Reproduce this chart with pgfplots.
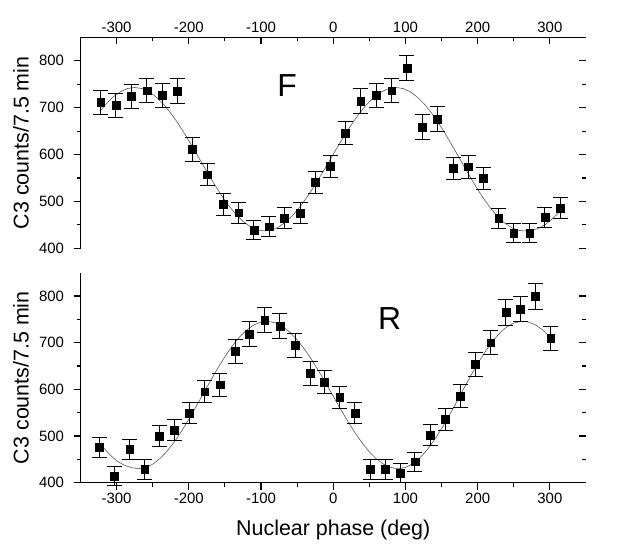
\documentclass[border=0pt]{standalone}
\usepackage{pgfplots}
\pgfplotsset{compat=1.18}
\usepackage{fontspec}
\setmainfont{Liberation Sans}

\pgfplotstableread{
x y e
-322 711 26
-301 705 26
-280 724 26
-258 736 26
-237 726 26
-216 735 27
-195 611 25
-174 557 24
-152 494 23
-131 476 22
-110 439 20
-89 446 21
-68 465 22
-46 475 22
-25 541 23
-4 575 24
17 646 25
38 714 26
60 726 26
81 736 26
102 784 27
123 659 26
144 676 26
166 570 24
187 574 24
208 549 23
229 464 22
250 432 20
272 432 20
293 466 22
314 486 22
}\dataF

\pgfplotstableread{
x y e
-324 476 22
-303 414 20
-282 471 21
-261 429 21
-241 500 22
-220 513 22
-199 549 23
-178 595 24
-157 610 25
-136 681 26
-116 718 27
-95 749 27
-74 736 27
-53 694 26
-32 634 25
-12 616 25
9 583 24
30 549 23
51 429 21
72 429 21
93 421 20
113 445 20
134 502 22
155 536 23
176 586 24
197 654 26
218 700 26
239 765 27
259 772 27
280 800 28
301 709 26
}\dataR

\pgfplotsset{
  base/.style={
    scale only axis, width=505.5bp, anchor=south west,
    xmin=-350, xmax=350, ymin=400, ymax=850, clip=false,
    /pgf/number format/assume math mode=true,
    tick label style={font=\fontsize{15}{18}\selectfont, text=black},
    yticklabel style={xshift=-6bp},
    major tick length=7bp, minor tick length=4bp,
    every tick/.style={black, line width=1.1bp},
    axis line style={black, line width=1.4bp},
    xtick={-300,-200,...,300}, minor x tick num=1,
    ytick={400,500,...,800}, minor y tick num=1,
    every axis x label/.style={at={(axis description cs:0.5,-0.224)}, anchor=center, font=\fontsize{21.5}{25}\selectfont},
    every axis y label/.style={at={(axis description cs:-0.118,0.5)}, rotate=90, anchor=center, font=\fontsize{21.5}{25}\selectfont},
  },
  fitline/.style={no marks, line width=0.6bp, color=black!65},
  pts/.style={only marks, mark=square*, mark size=3.9bp, black,
    error bars/.cd, y dir=both, y explicit,
    error bar style={line width=0.9bp, black},
    error mark options={rotate=90, line width=0.9bp, mark size=7.5bp, black}},
}

\begin{document}
\begin{tikzpicture}
\path[use as bounding box] (0bp,0bp) rectangle (624bp,548bp);

% ---------- top panel (F) ----------
\begin{axis}[base, at={(80.5bp,299.7bp)}, height=211bp,
  axis x line*=top, axis y line=none, tick align=inside,
  xticklabel style={yshift=1bp}]
\addplot[fitline] coordinates {
(-322,694.3) (-315,707.2) (-305,722.5) (-295,733.8) (-285,740.7) (-275,743) (-265,740.7) (-255,733.8) (-245,722.5) (-235,707.2) (-225,688.3) (-215,666.5) (-205,642.3) (-195,616.6) (-185,590) (-175,563.4) (-165,537.7) (-155,513.5) (-145,491.7) (-135,472.8) (-125,457.5) (-115,446.2) (-105,439.3) (-95,437) (-85,439.3) (-75,446.0) (-65,457.1) (-55,472.1) (-45,490.6) (-35,512.0) (-25,535.7) (-15,561.1) (-5,587.4) (5,613.7) (15,639.3) (25,663.4) (35,685.4) (45,704.5) (55,720.3) (65,732.1) (75,739.7) (87,743) (97,740.6) (107,733.5) (117,721.8) (127,706.0) (137,686.6) (147,664.1) (157,639.3) (167,613.0) (177,585.9) (187,559.0) (197,533.0) (207,508.8) (217,487.2) (227,468.8) (237,454.2) (247,443.9) (257,438.2) (264,437) (274,438.5) (284,442) (294,451) (304,464) (314,478)
};
\addplot[pts] table[x=x, y=y, y error=e] {\dataF};
\node[font=\fontsize{32}{36}\selectfont] at (axis cs:-64,748) {F};
\end{axis}
\begin{axis}[base, at={(80.5bp,299.7bp)}, height=211bp,
  axis x line=none, axis y line*=left, tick align=outside,
  ylabel={C3 counts/7.5 min}]
\end{axis}
\begin{axis}[base, at={(80.5bp,299.7bp)}, height=211bp,
  axis x line=none, axis y line*=right, tick align=inside,
  yticklabels={}, y axis line style={draw=none}]
\end{axis}

% ---------- bottom panel (R) ----------
\begin{axis}[base, at={(80.5bp,65.3bp)}, height=210bp,
  axis x line*=bottom, axis y line=none, tick align=outside,
  xlabel={Nuclear phase (deg)}]
\addplot[fitline] coordinates {
(-322,482) (-310,461) (-300,447) (-290,438) (-280,432.5) (-270,430) (-260,432.4) (-250,439.7) (-240,451.6) (-230,467.8) (-220,487.6) (-210,510.6) (-200,536.0) (-190,563.0) (-180,590.8) (-170,618.5) (-160,645.2) (-150,670.2) (-140,692.6) (-130,711.8) (-120,727.1) (-110,738.1) (-100,744.4) (-92,746) (-80,742.6) (-70,734.7) (-60,722.5) (-50,706.2) (-40,686.6) (-30,663.8) (-20,638.9) (-10,612.4) (0,585.3) (10,558.2) (20,532.0) (30,507.4) (40,485.3) (50,466.2) (60,450.7) (70,439.3) (80,432.4) (90,430) (100,432.6) (110,440.4) (120,453.1) (130,470.4) (140,491.4) (150,515.7) (160,542.5) (170,570.7) (180,599.5) (190,628.0) (200,655.1) (210,679.9) (220,701.7) (230,719.8) (240,733.4) (250,742.2) (262,746) (270,744.5) (280,738.3) (290,727.5) (302,709)
};
\addplot[pts] table[x=x, y=y, y error=e] {\dataR};
\node[font=\fontsize{32}{36}\selectfont] at (axis cs:78,752) {R};
\end{axis}
\begin{axis}[base, at={(80.5bp,65.3bp)}, height=210bp,
  axis x line=none, axis y line*=left, tick align=outside,
  ylabel={C3 counts/7.5 min}]
\end{axis}
\begin{axis}[base, at={(80.5bp,65.3bp)}, height=210bp,
  axis x line=none, axis y line*=right, tick align=inside,
  yticklabels={}, y axis line style={draw=none}]
\end{axis}
\end{tikzpicture}
\end{document}
